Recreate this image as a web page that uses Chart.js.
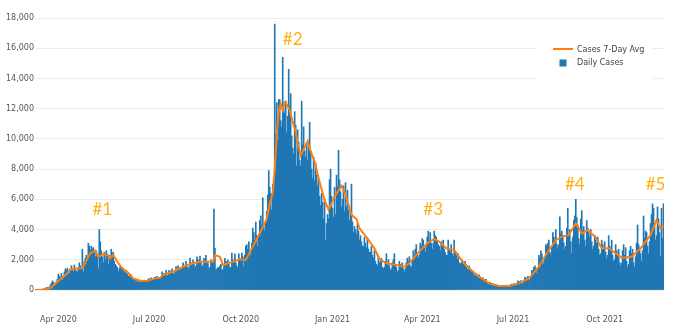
<!DOCTYPE html>
<html>
<head>
<meta charset="utf-8">
<script src="https://cdn.jsdelivr.net/npm/chart.js@4/dist/chart.umd.min.js"></script>
<style>
    html, body { margin: 0; padding: 0; background: #fff; }
    #wrap { width: 680px; height: 324px; }
</style>
</head>
<body>
<div id="wrap"><canvas id="casesChart"></canvas></div>
<script>
// x values are days counted from START_DATE
const START_DATE = '2020-03-09';

// daily cases, one value per day from START_DATE (a week per line)
const DAILY_CASES = [
    2, 5, 8, 15, 22, 35, 45,
    40, 70, 90, 120, 150, 180, 160,
    200, 330, 450, 600, 520, 380, 300,
    550, 700, 1050, 900, 780, 1100, 650,
    900, 1200, 1400, 1300, 1450, 1150, 1100,
    1300, 1600, 1450, 1200, 1650, 1400, 1250,
    1200, 1500, 1800, 1600, 1350, 2700, 1200,
    1900, 2100, 2300, 2050, 3100, 2900, 2600,
    2900, 2700, 2800, 2500, 2200, 2600, 2300,
    1400, 4000, 3200, 2600, 2200, 1800, 2500,
    2000, 2600, 2400, 1700, 2300, 2000, 2700,
    2400, 2500, 1900, 1700, 1600, 1500, 1200,
    1400, 1600, 1350, 1500, 1300, 1150, 1250,
    1100, 1050, 900, 950, 800, 1000, 850,
    700, 750, 600, 650, 500, 700, 600,
    550, 650, 600, 500, 650, 600, 550,
    600, 700, 750, 650, 800, 700, 650,
    800, 850, 750, 900, 700, 800, 750,
    850, 1200, 1000, 1100, 950, 1300, 900,
    1000, 1300, 1150, 1250, 1400, 1100, 1000,
    1200, 1550, 1350, 1600, 1450, 1300, 1500,
    1450, 1800, 1650, 1500, 1900, 1700, 1400,
    1500, 2100, 1800, 1650, 2000, 1850, 1450,
    1600, 2200, 2000, 1850, 2250, 1900, 1500,
    1650, 2100, 2000, 2300, 1900, 1750, 1400,
    1500, 2000, 1900, 1800, 5350, 2750, 1350,
    1400, 1500, 1450, 1600, 1700, 1350, 1300,
    1550, 2100, 1900, 1800, 2000, 1700, 1500,
    1500, 2450, 2000, 1900, 2400, 1800, 1600,
    1450, 2400, 2100, 2000, 2450, 2200, 1550,
    2300, 2900, 3000, 2700, 3200, 2500, 2300,
    3100, 4100, 3800, 3300, 4500, 3600, 2900,
    3700, 4600, 4900, 4300, 6100, 4200, 3900,
    4500, 5200, 6300, 7900, 6800, 6400, 5300,
    7000, 6800, 17600, 10300, 12400, 9900, 12600,
    12600, 11200, 10800, 15400, 12000, 11700, 12500,
    10400, 11500, 14600, 12200, 13000, 10200, 9400,
    9000, 11800, 10900, 8200, 10600, 9800, 8600,
    8200, 12500, 9600, 10800, 9200, 8800, 9700,
    8600, 9800, 11100, 9200, 8000, 7400, 8800,
    7200, 8400, 7600, 6900, 7300, 6200, 5600,
    6400, 5800, 4700, 6000, 3300, 4400, 5000,
    4700, 7300, 8000, 6200, 5400, 4800, 6800,
    5000, 7600, 6800, 9250, 7300, 6500, 5500,
    6000, 6900, 5200, 7100, 5500, 6600, 5300,
    4600, 5200, 7000, 4500, 3800, 4200, 4000,
    3700, 4400, 3900, 3300, 3600, 3200, 2900,
    2900, 3500, 3100, 2800, 3400, 2700, 2500,
    2500, 2900, 2300, 2100, 2600, 1900, 1700,
    1600, 2200, 1800, 1900, 2100, 1500, 1400,
    1500, 1900, 2400, 1700, 2000, 1600, 1300,
    1400, 1800, 2000, 2400, 1700, 1500, 1200,
    1300, 1900, 1700, 1600, 1800, 1400, 1200,
    1400, 1800, 2100, 1900, 2200, 1600, 1500,
    1900, 2600, 2300, 2700, 3000, 2400, 2100,
    2300, 3100, 2900, 3400, 3300, 2800, 2500,
    2900, 3500, 3900, 3300, 3800, 3100, 2700,
    3100, 3900, 3600, 3500, 3300, 3000, 2900,
    2600, 3200, 2900, 3300, 2700, 2500, 2300,
    2300, 3300, 2700, 2500, 3000, 2400, 2200,
    3300, 2500, 2300, 2000, 2400, 1800, 1700,
    1800, 2000, 1700, 1600, 1900, 1500, 1400,
    1300, 1600, 1400, 1200, 1300, 1100, 1000,
    900, 1100, 950, 800, 1000, 800, 700,
    700, 800, 650, 550, 700, 500, 450,
    450, 500, 400, 350, 420, 300, 250,
    300, 320, 270, 250, 300, 220, 200,
    250, 300, 280, 260, 320, 230, 210,
    300, 380, 400, 350, 430, 330, 280,
    450, 600, 550, 500, 620, 480, 400,
    650, 850, 800, 750, 900, 700, 600,
    900, 1300, 1250, 1500, 1600, 1400, 1100,
    1500, 2300, 2100, 2600, 2400, 1900, 1700,
    2200, 3000, 2900, 3100, 3300, 2500, 2300,
    2800, 3800, 3500, 3300, 4000, 3000, 2700,
    3000, 4850, 3700, 3900, 3600, 3100, 2700,
    2900, 4100, 5400, 3600, 4000, 3200, 2400,
    3500, 4600, 4900, 6000, 4800, 4300, 3400,
    3000, 4700, 5250, 3900, 4200, 3300, 2900,
    4600, 4100, 3800, 3500, 4000, 3200, 2700,
    2900, 3600, 3300, 3100, 3500, 2700, 2300,
    2400, 3300, 3000, 2800, 3200, 2500, 2100,
    2300, 3600, 2900, 2700, 3300, 2300, 1900,
    2000, 3000, 2600, 2300, 2700, 1800, 1600,
    1800, 2600, 3000, 2300, 2800, 1900, 1500,
    1700, 2600, 2900, 2400, 2700, 1800, 1500,
    2200, 3100, 4300, 3000, 2800, 2400, 1900,
    2600, 4900, 3400, 3900, 3800, 2900, 2400,
    3200, 4400, 5000, 5700, 5400, 4200, 3300,
    3600, 5500, 4700, 3800, 2200, 5400, 3400,
    5700
];

// 7-day average (day, value)
const AVG_DAY = [
    0, 8, 15, 23, 32, 35, 43, 47, 55, 60, 63, 68, 72, 75, 78, 82, 87, 92, 98,
    105, 112, 120, 125, 128, 138, 145, 152, 158, 165, 172, 178, 180, 185, 188,
    198, 205, 211, 218, 225, 232, 235, 238, 240, 242, 244, 246, 248, 250, 252,
    255, 258, 261, 263, 266, 268, 273, 275, 280, 285, 290, 294, 300, 307, 311,
    317, 322, 325, 332, 340, 345, 352, 362, 370, 375, 385, 393, 400, 405, 412,
    420, 427, 435, 445, 455, 465, 475, 485, 495, 505, 513, 522, 528, 535, 542,
    548, 554, 562, 568, 575, 582, 588, 598, 607, 617, 623, 627, 630
];
const AVG_CASES = [
    0, 30, 130, 590, 1100, 1370, 1440, 1450, 2430, 2600, 2200, 2380, 2300, 2100, 2320, 1870, 1440, 1210, 770,
    600, 620, 770, 800, 1000, 1210, 1440, 1650, 1770, 1870, 1870, 1870, 2320, 2200, 1650,
    1870, 2030, 1990, 2870, 3750, 4700, 5700, 6400, 8000, 10300, 11800, 12300, 11900, 12400, 12300,
    11900, 11140, 10480, 9700, 8900, 9160, 9860, 9380, 8490, 7170, 5960, 5300, 6180, 6900, 6290,
    4970, 4700, 4080, 3500, 2760, 2050, 1770, 1650, 1540, 1770, 2540, 3090, 3380, 3200, 2760,
    2650, 1990, 1440, 880, 440, 265, 265, 440, 770, 1540, 2430, 3310, 3530, 3640, 4410,
    3750, 3970, 3490, 2760, 2760, 2430, 2140, 2200, 2760, 3640, 4630, 4080, 4260
];

const TICK_DATES = ['2020-04-01', '2020-07-01', '2020-10-01', '2021-01-01', '2021-04-01', '2021-07-01', '2021-10-01'];
const TICK_LABELS = ['Apr 2020', 'Jul 2020', 'Oct 2020', 'Jan 2021', 'Apr 2021', 'Jul 2021', 'Oct 2021'];

const NOTE_LABELS = ['#1', '#2', '#3', '#4', '#5'];
const NOTE_DATES = ['2020-05-15', '2020-11-22', '2021-04-12', '2021-09-01', '2021-11-21'];
const NOTE_VALUES = [5300, 16580, 5300, 6950, 6950];

const BAR_COLOR = '#1f77b4';
const LINE_COLOR = '#ff7f0e';

function dayOffset(dateStr) {
    return Math.round((Date.parse(dateStr) - Date.parse(START_DATE)) / 86400000);
}

// legend box + #1..#5 labels, drawn on top
const overlayPlugin = {
    id: 'overlay',
    afterDatasetsDraw(chart) {
        const ctx = chart.ctx;
        const xs = chart.scales.x, ys = chart.scales.y;
        ctx.save();

        ctx.fillStyle = '#ffaf14';
        ctx.font = '17px Lato';
        ctx.textAlign = 'center';
        ctx.textBaseline = 'middle';
        NOTE_LABELS.forEach((t, i) => {
            ctx.fillText(t, xs.getPixelForValue(dayOffset(NOTE_DATES[i])), ys.getPixelForValue(NOTE_VALUES[i]));
        });

        ctx.fillStyle = '#fff';
        ctx.fillRect(537, 36, 116, 44);
        ctx.strokeStyle = LINE_COLOR;
        ctx.lineWidth = 2;
        ctx.beginPath();
        ctx.moveTo(553, 49);
        ctx.lineTo(573, 49);
        ctx.stroke();
        ctx.fillStyle = BAR_COLOR;
        ctx.fillRect(559.5, 59.5, 7, 7);
        ctx.fillStyle = '#444';
        ctx.font = '8px "DejaVu Sans"';
        ctx.textAlign = 'left';
        ctx.fillText('Cases 7-Day Avg', 577, 49.5);
        ctx.fillText('Daily Cases', 577, 63);
        ctx.restore();
    }
};

new Chart(document.getElementById('casesChart').getContext('2d'), {
    type: 'bar',
    data: {
        datasets: [{
            type: 'line',
            label: 'Cases 7-Day Avg',
            data: AVG_DAY.map((d, i) => ({ x: d, y: AVG_CASES[i] })),
            borderColor: LINE_COLOR,
            borderWidth: 2,
            pointRadius: 0,
            tension: 0,
            order: 0
        }, {
            label: 'Daily Cases',
            data: DAILY_CASES.map((v, i) => ({ x: i, y: v })),
            backgroundColor: BAR_COLOR,
            borderWidth: 0,
            barPercentage: 1,
            categoryPercentage: 1,
            order: 1
        }]
    },
    options: {
        responsive: true,
        maintainAspectRatio: false,
        animation: false,
        layout: { padding: { top: 18, right: 16, bottom: 0, left: 0 } },
        plugins: {
            legend: { display: false },
            tooltip: { enabled: false }
        },
        scales: {
            x: {
                type: 'linear',
                offset: false,
                min: -0.5,
                max: DAILY_CASES.length - 0.5,
                grid: { display: false },
                border: { display: false },
                afterBuildTicks: axis => { axis.ticks = TICK_DATES.map(d => ({ value: dayOffset(d) })); },
                afterFit: scale => { scale.height = 34; },
                ticks: {
                    autoSkip: false,
                    maxRotation: 0,
                    padding: 17,
                    color: '#555',
                    font: { family: 'DejaVu Sans', size: 8 },
                    callback: (value, index) => TICK_LABELS[index]
                }
            },
            y: {
                min: 0,
                max: 18000,
                grid: { color: '#ececec', drawTicks: false },
                border: { display: false },
                afterFit: scale => { scale.width = 35; },
                ticks: {
                    stepSize: 2000,
                    padding: 1,
                    color: '#555',
                    font: { family: 'DejaVu Sans', size: 8 },
                    callback: v => v.toLocaleString('en-US')
                }
            }
        }
    },
    plugins: [overlayPlugin]
});
</script>
</body>
</html>
